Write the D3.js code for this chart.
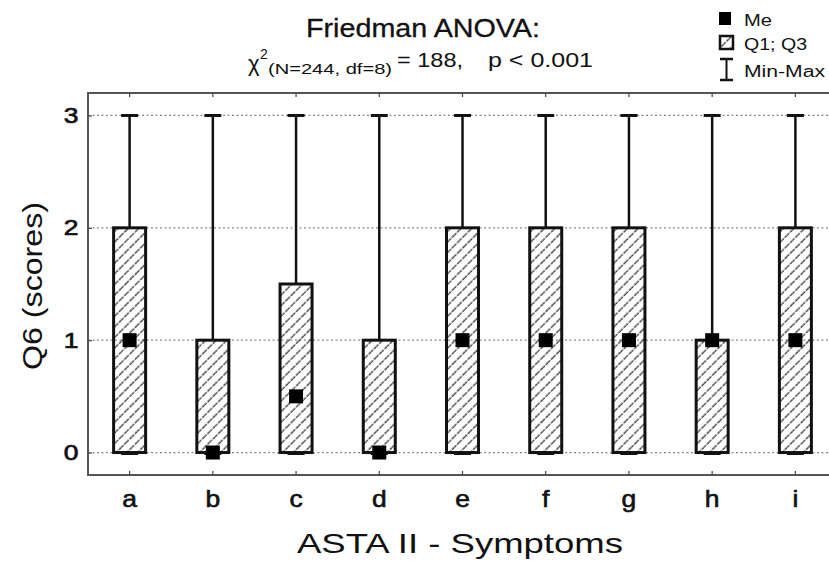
<!DOCTYPE html>
<html>
<head>
<meta charset="utf-8">
<script src="https://cdn.jsdelivr.net/npm/d3@7"></script>
<style>
  body { margin: 0; background: #fff; }
  svg { font-family: "Liberation Sans", Arial, sans-serif; }
</style>
</head>
<body>
<div class="chart-container"></div>
<script>
var categories = ['a', 'b', 'c', 'd', 'e', 'f', 'g', 'h', 'i'];
var medians = [1, 0, 0.5, 0, 1, 1, 1, 1, 1];
var q1 = [0, 0, 0, 0, 0, 0, 0, 0, 0];
var q3 = [2, 1, 1.5, 1, 2, 2, 2, 1, 2];
var mins = [0, 0, 0, 0, 0, 0, 0, 0, 0];
var maxs = [3, 3, 3, 3, 3, 3, 3, 3, 3];
var yTicks = [0, 1, 2, 3];

var width = 829;
var height = 562;
var plot = { left: 88, right: 837, top: 93, bottom: 475 };
var boxWidth = 32;
var capWidth = 17;

var svg = d3.select('.chart-container')
    .append('svg')
    .attr('width', width)
    .attr('height', height);

// Hatch pattern for the Q1-Q3 boxes
var defs = svg.append('defs');
defs.append('pattern')
    .attr('id', 'hatch')
    .attr('patternUnits', 'userSpaceOnUse')
    .attr('width', 7.5)
    .attr('height', 7.5)
    .attr('patternTransform', 'rotate(45)')
    .append('line')
    .attr('x1', 3).attr('y1', 0)
    .attr('x2', 3).attr('y2', 7.5)
    .attr('stroke', '#222')
    .attr('stroke-width', 1.2)
    .attr('stroke-dasharray', '3,1.2');

var xScale = d3.scaleBand()
    .domain(categories)
    .range([plot.left, plot.right])
    .padding(0);

var yScale = d3.scaleLinear()
    .domain([-0.2, 3.2])
    .range([plot.bottom, plot.top]);

// Dotted grid lines
svg.append('g')
    .selectAll('line')
    .data(yTicks)
    .enter()
    .append('line')
    .attr('x1', plot.left)
    .attr('x2', plot.right)
    .attr('y1', d => yScale(d))
    .attr('y2', d => yScale(d))
    .attr('stroke', '#888')
    .attr('stroke-width', 1.2)
    .attr('stroke-dasharray', '2,2.5');

// Axes (ticks point inwards)
var xAxis = svg.append('g')
    .attr('transform', 'translate(0,' + plot.bottom + ')')
    .call(d3.axisBottom(xScale).tickSize(-4).tickPadding(16));

svg.append('g')
    .attr('transform', 'translate(0,' + plot.top + ')')
    .call(d3.axisTop(xScale).tickSize(-4).tickFormat(''));

var yAxis = svg.append('g')
    .attr('transform', 'translate(' + plot.left + ',0)')
    .call(d3.axisLeft(yScale).tickValues(yTicks).tickSize(-4).tickPadding(8).tickFormat(d3.format('d')));

svg.selectAll('.domain').remove();
svg.selectAll('.tick line').attr('stroke', '#444').attr('stroke-width', 1.2);

// Tick labels are a little wide in the original, so stretch them horizontally
xAxis.selectAll('text')
    .attr('font-size', 23)
    .attr('fill', '#111')
    .attr('stroke', '#111')
    .attr('stroke-width', 0.6)
    .attr('transform', 'scale(1.15,1)');
yAxis.selectAll('text')
    .attr('font-size', 22)
    .attr('fill', '#111')
    .attr('stroke', '#111')
    .attr('stroke-width', 0.7)
    .attr('transform', 'scale(1.2,1)');

// Frame
svg.append('rect')
    .attr('x', plot.left)
    .attr('y', plot.top)
    .attr('width', plot.right - plot.left)
    .attr('height', plot.bottom - plot.top)
    .attr('fill', 'none')
    .attr('stroke', '#555')
    .attr('stroke-width', 2);

// Boxes
var groups = svg.append('g')
    .selectAll('g')
    .data(categories)
    .enter()
    .append('g')
    .attr('transform', d => 'translate(' + (xScale(d) + xScale.bandwidth() / 2) + ',0)');

// Whiskers
groups.append('line')
    .attr('x1', 0).attr('x2', 0)
    .attr('y1', (d, i) => yScale(q3[i]))
    .attr('y2', (d, i) => yScale(maxs[i]))
    .attr('stroke', '#111')
    .attr('stroke-width', 2.5);

groups.append('line')
    .attr('x1', 0).attr('x2', 0)
    .attr('y1', (d, i) => yScale(q1[i]))
    .attr('y2', (d, i) => yScale(mins[i]))
    .attr('stroke', '#111')
    .attr('stroke-width', 2.5);

groups.append('rect')
    .attr('x', -boxWidth / 2)
    .attr('y', (d, i) => yScale(q3[i]))
    .attr('width', boxWidth)
    .attr('height', (d, i) => yScale(q1[i]) - yScale(q3[i]))
    .attr('fill', 'url(#hatch)')
    .attr('stroke', '#111')
    .attr('stroke-width', 3);

// Caps at min and max
groups.append('line')
    .attr('x1', -capWidth / 2).attr('x2', capWidth / 2)
    .attr('y1', (d, i) => yScale(maxs[i]))
    .attr('y2', (d, i) => yScale(maxs[i]))
    .attr('stroke', '#111')
    .attr('stroke-width', 3);

groups.append('line')
    .attr('x1', -capWidth / 2).attr('x2', capWidth / 2)
    .attr('y1', (d, i) => yScale(mins[i]) + 1)
    .attr('y2', (d, i) => yScale(mins[i]) + 1)
    .attr('stroke', '#111')
    .attr('stroke-width', 3);

// Median squares
groups.append('rect')
    .attr('x', -7)
    .attr('y', (d, i) => yScale(medians[i]) - 7)
    .attr('width', 14)
    .attr('height', 14)
    .attr('fill', '#000');

// Axis titles
svg.append('text')
    .attr('x', 297)
    .attr('y', 553)
    .attr('textLength', 326)
    .attr('lengthAdjust', 'spacingAndGlyphs')
    .attr('font-size', 28)
    .attr('fill', '#111')
    .text('ASTA II - Symptoms');

svg.append('text')
    .attr('transform', 'translate(42,370) rotate(-90)')
    .attr('textLength', 168)
    .attr('lengthAdjust', 'spacingAndGlyphs')
    .attr('font-size', 27)
    .attr('fill', '#111')
    .text('Q6 (scores)');

// Title
svg.append('text')
    .attr('x', 306)
    .attr('y', 37)
    .attr('textLength', 234)
    .attr('lengthAdjust', 'spacingAndGlyphs')
    .attr('font-size', 26)
    .attr('fill', '#111')
    .attr('stroke', '#111')
    .attr('stroke-width', 0.3)
    .text('Friedman ANOVA:');

var stat = svg.append('g').attr('fill', '#111');
stat.append('text').attr('x', 248).attr('y', 71).attr('font-size', 22).text('\u03C7');
stat.append('text').attr('x', 260).attr('y', 59).attr('font-size', 14).text('2');
stat.append('text')
    .attr('x', 268).attr('y', 74)
    .attr('textLength', 124)
    .attr('lengthAdjust', 'spacingAndGlyphs')
    .attr('font-size', 14)
    .text('(N=244, df=8)');
stat.append('text')
    .attr('x', 397).attr('y', 67)
    .attr('textLength', 66)
    .attr('lengthAdjust', 'spacingAndGlyphs')
    .attr('font-size', 20)
    .text('= 188,');
stat.append('text')
    .attr('x', 488).attr('y', 67)
    .attr('textLength', 105)
    .attr('lengthAdjust', 'spacingAndGlyphs')
    .attr('font-size', 20)
    .text('p < 0.001');

// Legend
var legend = svg.append('g');
legend.append('rect')
    .attr('x', 719).attr('y', 12)
    .attr('width', 12).attr('height', 13)
    .attr('fill', '#000');
legend.append('rect')
    .attr('x', 720).attr('y', 36)
    .attr('width', 13).attr('height', 13)
    .attr('fill', 'url(#hatch)')
    .attr('stroke', '#111')
    .attr('stroke-width', 2.5);
legend.append('line')
    .attr('x1', 726.5).attr('x2', 726.5)
    .attr('y1', 59).attr('y2', 80)
    .attr('stroke', '#111').attr('stroke-width', 2);
legend.append('line')
    .attr('x1', 720).attr('x2', 733)
    .attr('y1', 59).attr('y2', 59)
    .attr('stroke', '#111').attr('stroke-width', 2.5);
legend.append('line')
    .attr('x1', 720).attr('x2', 733)
    .attr('y1', 80).attr('y2', 80)
    .attr('stroke', '#111').attr('stroke-width', 2.5);

var legendLabels = [
    { text: 'Me', y: 26, w: 28 },
    { text: 'Q1; Q3', y: 50, w: 63 },
    { text: 'Min-Max', y: 77, w: 81 }
];
legend.selectAll('text.lbl')
    .data(legendLabels)
    .enter()
    .append('text')
    .attr('class', 'lbl')
    .attr('x', 744)
    .attr('y', d => d.y)
    .attr('textLength', d => d.w)
    .attr('lengthAdjust', 'spacingAndGlyphs')
    .attr('font-size', 16)
    .attr('fill', '#111')
    .text(d => d.text);
</script>
</body>
</html>
